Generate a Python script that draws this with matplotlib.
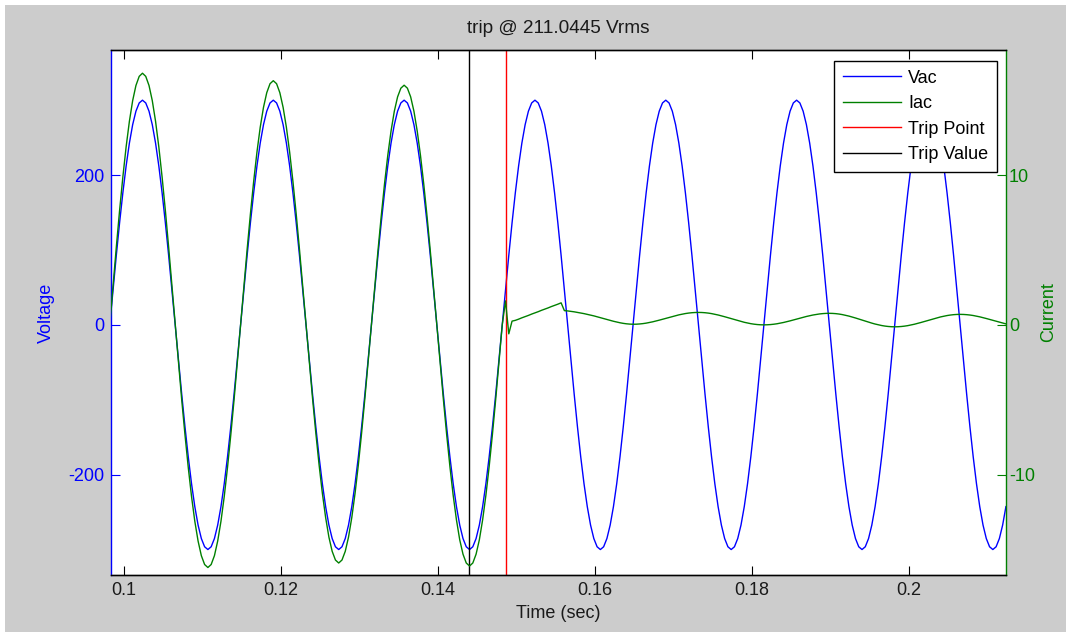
import numpy as np
import matplotlib
matplotlib.use('Agg')
import matplotlib.pyplot as plt
from matplotlib.patches import Rectangle

plt.rcParams['font.family'] = ['Liberation Sans', 'DejaVu Sans']
plt.rcParams['font.size'] = 13
plt.rcParams['axes.unicode_minus'] = False

t_start = 0.098183
fs = 2400.0

vac = [
    0.0, 46.9, 92.7, 136.2, 176.3, 212.1, 242.7, 267.3, 285.3, 296.3,
    300.0, 296.3, 285.3, 267.3, 242.7, 212.1, 176.3, 136.2, 92.7, 46.9,
    0.0, -46.9, -92.7, -136.2, -176.3, -212.1, -242.7, -267.3, -285.3, -296.3,
    -300.0, -296.3, -285.3, -267.3, -242.7, -212.1, -176.3, -136.2, -92.7, -46.9,
    0.0, 46.9, 92.7, 136.2, 176.3, 212.1, 242.7, 267.3, 285.3, 296.3,
    300.0, 296.3, 285.3, 267.3, 242.7, 212.1, 176.3, 136.2, 92.7, 46.9,
    0.0, -46.9, -92.7, -136.2, -176.3, -212.1, -242.7, -267.3, -285.3, -296.3,
    -300.0, -296.3, -285.3, -267.3, -242.7, -212.1, -176.3, -136.2, -92.7, -46.9,
    0.0, 46.9, 92.7, 136.2, 176.3, 212.1, 242.7, 267.3, 285.3, 296.3,
    300.0, 296.3, 285.3, 267.3, 242.7, 212.1, 176.3, 136.2, 92.7, 46.9,
    0.0, -46.9, -92.7, -136.2, -176.3, -212.1, -242.7, -267.3, -285.3, -296.3,
    -300.0, -296.3, -285.3, -267.3, -242.7, -212.1, -176.3, -136.2, -92.7, -46.9,
    0.0, 46.9, 92.7, 136.2, 176.3, 212.1, 242.7, 267.3, 285.3, 296.3,
    300.0, 296.3, 285.3, 267.3, 242.7, 212.1, 176.3, 136.2, 92.7, 46.9,
    0.0, -46.9, -92.7, -136.2, -176.3, -212.1, -242.7, -267.3, -285.3, -296.3,
    -300.0, -296.3, -285.3, -267.3, -242.7, -212.1, -176.3, -136.2, -92.7, -46.9,
    0.0, 46.9, 92.7, 136.2, 176.3, 212.1, 242.7, 267.3, 285.3, 296.3,
    300.0, 296.3, 285.3, 267.3, 242.7, 212.1, 176.3, 136.2, 92.7, 46.9,
    0.0, -46.9, -92.7, -136.2, -176.3, -212.1, -242.7, -267.3, -285.3, -296.3,
    -300.0, -296.3, -285.3, -267.3, -242.7, -212.1, -176.3, -136.2, -92.7, -46.9,
    0.0, 46.9, 92.7, 136.2, 176.3, 212.1, 242.7, 267.3, 285.3, 296.3,
    300.0, 296.3, 285.3, 267.3, 242.7, 212.1, 176.3, 136.2, 92.7, 46.9,
    0.0, -46.9, -92.7, -136.2, -176.3, -212.1, -242.7, -267.3, -285.3, -296.3,
    -300.0, -296.3, -285.3, -267.3, -242.7, -212.1, -176.3, -136.2, -92.7, -46.9,
    0.0, 46.9, 92.7, 136.2, 176.3, 212.1, 242.7, 267.3, 285.3, 296.3,
    300.0, 296.3, 285.3, 267.3, 242.7, 212.1, 176.3, 136.2, 92.7, 46.9,
    0.0, -46.9, -92.7, -136.2, -176.3, -212.1, -242.7, -267.3, -285.3, -296.3,
    -300.0, -296.3, -285.3, -267.3, -242.7,
]

iac = [
    0.0,
    2.63, 5.19, 7.63, 9.87, 11.88, 13.59, 14.97, 15.98, 16.59, 16.8,
    16.59, 15.98, 14.97, 13.59, 11.88, 9.87, 7.63, 5.19, 2.63, 0.0,
    -2.53, -5.01, -7.35, -9.52, -11.46, -13.11, -14.43, -15.41, -16.0, -16.2,
    -16.0, -15.41, -14.43, -13.11, -11.46, -9.52, -7.35, -5.01, -2.53, 0.0,
    2.55, 5.04, 7.40, 9.58, 11.53, 13.19, 14.52, 15.5, 16.1, 16.3,
    16.1, 15.5, 14.52, 13.19, 11.53, 9.58, 7.40, 5.04, 2.55, 0.0,
    -2.49, -4.91, -7.22, -9.35, -11.24, -12.86, -14.17, -15.12, -15.7, -15.9,
    -15.7, -15.12, -14.17, -12.86, -11.24, -9.35, -7.22, -4.91, -2.49, 0.0,
    2.50, 4.94, 7.26, 9.40, 11.31, 12.94, 14.26, 15.22, 15.8, 16.0,
    15.8, 15.22, 14.26, 12.94, 11.31, 9.40, 7.26, 4.94, 2.50, 0.0,
    -2.52, -4.97, -7.31, -9.46, -11.38, -13.02, -14.35, -15.31, -15.9, -16.1,
    -15.9, -15.31, -14.35, -13.02, -11.38, -9.46, -7.31, -4.97, -2.52, 0.0,
    1.6, -0.6, 0.25,
    0.30, 0.38, 0.47, 0.55, 0.63, 0.72, 0.80, 0.88, 0.97, 1.05,
    1.13, 1.22, 1.30, 1.38, 1.47,
    0.95,
    0.93, 0.90, 0.87, 0.83, 0.79, 0.75, 0.70, 0.65, 0.60, 0.54,
    0.48, 0.42, 0.36, 0.30, 0.24, 0.19, 0.14, 0.10, 0.07, 0.05,
    0.04, 0.045, 0.06, 0.083, 0.115, 0.156, 0.203, 0.256, 0.313, 0.373,
    0.435, 0.497, 0.557, 0.614, 0.667, 0.714, 0.755, 0.787, 0.811, 0.825,
    0.83, 0.825, 0.810, 0.785, 0.751, 0.708, 0.659, 0.603, 0.543, 0.480,
    0.415, 0.350, 0.287, 0.227, 0.171, 0.122, 0.079, 0.045, 0.020, 0.005,
    0.0, 0.005, 0.019, 0.042, 0.073, 0.113, 0.159, 0.210, 0.266, 0.325,
    0.385, 0.445, 0.504, 0.560, 0.611, 0.657, 0.696, 0.728, 0.751, 0.766,
    0.77, 0.764, 0.748, 0.721, 0.684, 0.638, 0.585, 0.524, 0.459, 0.390,
    0.32, 0.250, 0.181, 0.116, 0.055, 0.002, -0.044, -0.081, -0.108, -0.124,
    -0.13, -0.125, -0.110, -0.085, -0.051, -0.008, 0.041, 0.097, 0.157, 0.220,
    0.285, 0.35, 0.413, 0.473, 0.529, 0.578, 0.621, 0.655, 0.680, 0.695,
    0.70, 0.695, 0.680, 0.656, 0.624, 0.583, 0.535, 0.482, 0.424, 0.363,
    0.30, 0.237, 0.176, 0.118, 0.065,
]

trip_point = 0.1486   # red line
trip_value = 0.14395  # black line
title = 'trip @ 211.0445 Vrms'

x_ticks = [0.1, 0.12, 0.14, 0.16, 0.18, 0.2]
x_labels = ['0.1', '0.12', '0.14', '0.16', '0.18', '0.2']
v_ticks = [-200, 0, 200]
i_ticks = [-10, 0, 10]

t = t_start + np.arange(len(vac)) / fs

W, H = 1066, 632
fig = plt.figure(figsize=(W / 100, H / 100), dpi=100)
fig.patch.set_facecolor('white')
# grey figure area (screenshot has a thin white strip top/left)
fig.patches.append(Rectangle((5 / W, 0), 1 - 5 / W, 1 - 5 / H, transform=fig.transFigure,
                             facecolor='#cccccc', edgecolor='none', zorder=-1))

ax = fig.add_axes([111 / W, 1 - 575 / H, 895 / W, 525 / H])
ax.set_facecolor('white')
ax2 = ax.twinx()

l_v, = ax.plot(t, vac, color='#0000ff', lw=1.0, label='Vac')
l_tp = ax.axvline(trip_point, color='#ff0000', lw=1.0, label='Trip Point')
l_tv = ax.axvline(trip_value, color='black', lw=1.0, label='Trip Value')
l_i, = ax2.plot(t, iac, color='#008000', lw=1.0, label='Iac')

ax.set_xlim(0.09834, 0.21236)
ax.set_ylim(-334, 367)
ax2.set_ylim(-334 / 20, 367 / 20)

ax.set_xticks(x_ticks)
ax.set_xticklabels(x_labels)
ax.set_yticks(v_ticks)
ax2.set_yticks(i_ticks)

ax.tick_params(axis='x', direction='in', length=6.5, width=0.8, top=True, pad=5,
               colors='black', labelcolor='#1a1a1a')
ax.tick_params(axis='y', direction='in', length=6.5, width=0.8, right=False, pad=5,
               colors='#0000ff')
ax2.tick_params(axis='y', direction='in', length=6.5, width=0.8, pad=2, colors='#008000')

for a in (ax, ax2):
    for s in a.spines.values():
        s.set_linewidth(1.0)
ax.spines['left'].set_color('#0000ff')
ax.spines['right'].set_visible(False)
ax2.spines['left'].set_visible(False)
ax2.spines['right'].set_color('#008000')
ax.spines['top'].set_color('#333333')
ax.spines['bottom'].set_color('#333333')

ax.set_title(title, pad=12, color='#1a1a1a', fontsize=13.7)
ax.set_xlabel('Time (sec)', color='#1a1a1a')
ax.xaxis.set_label_coords(0.5, -0.058)
ax.set_ylabel('Voltage', color='#0000ff')
ax.yaxis.set_label_coords(-0.0626, 0.5)
ax2.set_ylabel('Current', color='#008000')
ax2.yaxis.set_label_coords(1.038, 0.5)

leg = ax2.legend([l_v, l_i, l_tp, l_tv], ['Vac', 'Iac', 'Trip Point', 'Trip Value'],
                 loc='upper right', bbox_to_anchor=(0.9903, 0.9796), borderaxespad=0,
                 fancybox=False, framealpha=1, edgecolor='black', handlelength=3.2,
                 handletextpad=0.4, labelspacing=0.47, borderpad=0.5)
leg.get_frame().set_linewidth(1.0)

fig.savefig('out.png', dpi=100, facecolor=fig.get_facecolor())
